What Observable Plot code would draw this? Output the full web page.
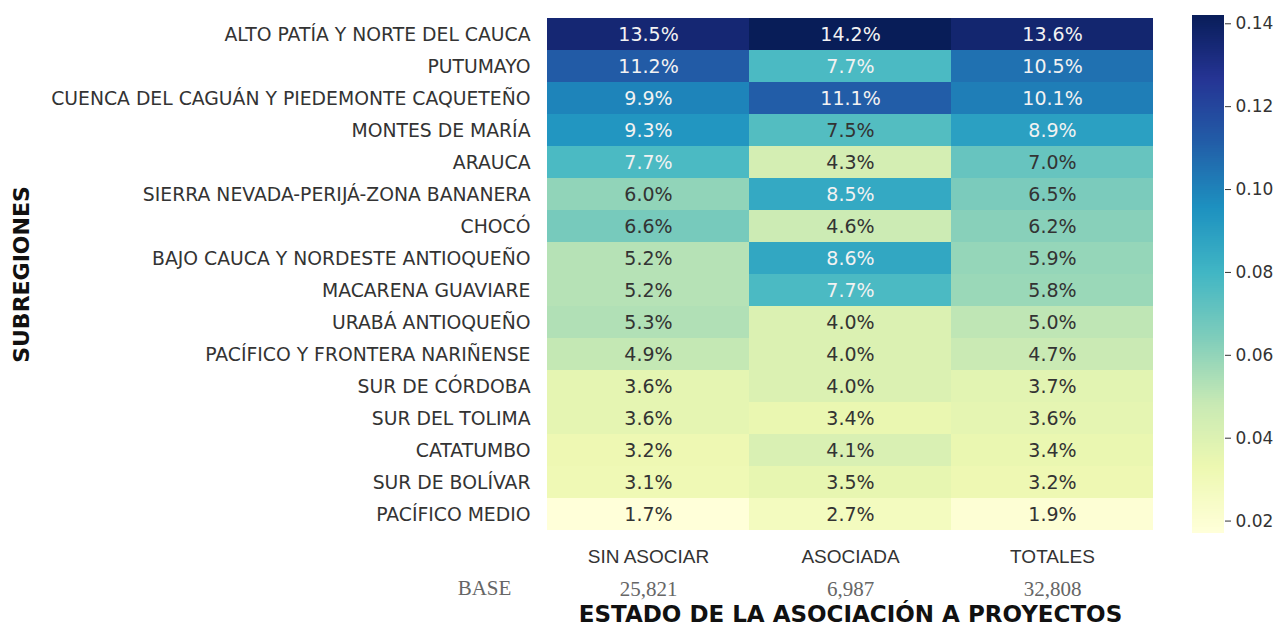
<!DOCTYPE html>
<html>
<head>
<meta charset="utf-8">
<script src="https://cdn.jsdelivr.net/npm/d3@7"></script>
<script src="https://cdn.jsdelivr.net/npm/@observablehq/plot@0.6"></script>
<style>
  html, body { margin: 0; padding: 0; background: #fff; }
  #wrap { position: relative; width: 1279px; height: 632px; }
  #wrap > div, #wrap > svg { position: absolute; top: 0; }
</style>
</head>
<body>
<div id="wrap"></div>
<script>
const regions = [
  "ALTO PATÍA Y NORTE DEL CAUCA",
  "PUTUMAYO",
  "CUENCA DEL CAGUÁN Y PIEDEMONTE CAQUETEÑO",
  "MONTES DE MARÍA",
  "ARAUCA",
  "SIERRA NEVADA-PERIJÁ-ZONA BANANERA",
  "CHOCÓ",
  "BAJO CAUCA Y NORDESTE ANTIOQUEÑO",
  "MACARENA GUAVIARE",
  "URABÁ ANTIOQUEÑO",
  "PACÍFICO Y FRONTERA NARIÑENSE",
  "SUR DE CÓRDOBA",
  "SUR DEL TOLIMA",
  "CATATUMBO",
  "SUR DE BOLÍVAR",
  "PACÍFICO MEDIO"
];
const columns = ["SIN ASOCIAR", "ASOCIADA", "TOTALES"];
const sinAsociar = [13.5, 11.2, 9.9, 9.3, 7.7, 6.0, 6.6, 5.2, 5.2, 5.3, 4.9, 3.6, 3.6, 3.2, 3.1, 1.7];
const asociada   = [14.2, 7.7, 11.1, 7.5, 4.3, 8.5, 4.6, 8.6, 7.7, 4.0, 4.0, 4.0, 3.4, 4.1, 3.5, 2.7];
const totales    = [13.6, 10.5, 10.1, 8.9, 7.0, 6.5, 6.2, 5.9, 5.8, 5.0, 4.7, 3.7, 3.6, 3.4, 3.2, 1.9];
const baseValues = ["25,821", "6,987", "32,808"];
const colorTicks = [0.02, 0.04, 0.06, 0.08, 0.10, 0.12, 0.14];
const ylgnbu = ["#ffffd9","#edf8b1","#c7e9b4","#7fcdbb","#41b6c4","#1d91c0","#225ea8","#253494","#081d58"];

const series = [sinAsociar, asociada, totales];
const cells = regions.flatMap((r, i) => columns.map((c, j) => ({region: r, col: c, value: series[j][i] / 100})));

const vmin = d3.min(cells, d => d.value);
const vmax = d3.max(cells, d => d.value);
const stops = ylgnbu.map((_, i) => vmin + (vmax - vmin) * i / (ylgnbu.length - 1));
const colorOpts = {type: "linear", domain: stops, range: ylgnbu, interpolate: "rgb"};

// seaborn-style text colour choice via relative luminance
const cfun = d3.scaleLinear().domain(stops).range(ylgnbu).interpolate(d3.interpolateRgb);
function lum(v) {
  const c = d3.rgb(cfun(v));
  const f = x => { x /= 255; return x <= 0.03928 ? x / 12.92 : Math.pow((x + 0.055) / 1.055, 2.4); };
  return 0.2126 * f(c.r) + 0.7152 * f(c.g) + 0.0722 * f(c.b);
}
const isDark = d => lum(d.value) <= 0.408;
const fmt = d => (d.value * 100).toFixed(1) + "%";

const FONT = "DejaVu Sans";
const SERIF = "Liberation Serif, serif";

const main = Plot.plot({
  width: 1279,
  height: 632,
  marginLeft: 546,
  marginRight: 125,
  marginTop: 15,
  marginBottom: 99,
  style: {fontFamily: FONT, background: "#fff"},
  x: {domain: columns, padding: 0, axis: null},
  y: {domain: regions, padding: 0, axis: null},
  color: colorOpts,
  marks: [
    Plot.cell(cells, {x: "col", y: "region", fill: "value"}),
    Plot.text(cells, {filter: isDark, x: "col", y: "region", text: fmt, fill: "#f2f2f2", fontSize: 19}),
    Plot.text(cells, {filter: d => !isDark(d), x: "col", y: "region", text: fmt, fill: "#333", fontSize: 19}),
    Plot.axisY({tickSize: 0, tickPadding: 16, fontSize: 18.8, label: null, color: "#333"}),
    Plot.axisX({tickSize: 0, tickPadding: 16, fontSize: 19, label: null, color: "#333",
      fontFamily: "Liberation Sans Narrow, Arial Narrow, Liberation Sans, sans-serif"}),
    Plot.axisX({tickSize: 0, tickPadding: 48, fontSize: 21, label: null, color: "#666",
      fontFamily: SERIF, tickFormat: d => baseValues[columns.indexOf(d)]}),
    Plot.text(["BASE"], {frameAnchor: "bottom-left", dx: -62, dy: 61, fontSize: 21, fill: "#666",
      fontFamily: SERIF, textAnchor: "middle"}),
    Plot.text(["ESTADO DE LA ASOCIACIÓN A PROYECTOS"], {frameAnchor: "bottom", dy: 88, fontSize: 23,
      fontWeight: "bold", fill: "#111"}),
    Plot.text(["SUBREGIONES"], {frameAnchor: "left", dx: -525, rotate: -90, fontSize: 22,
      fontWeight: "bold", fill: "#111", textAnchor: "middle"})
  ]
});
main.style.left = "0px";
document.getElementById("wrap").appendChild(main);

// vertical colour bar
const nBands = 260;
const bands = d3.range(nBands).map(i => vmin + (vmax - vmin) * i / nBands);
const step = (vmax - vmin) / nBands;
const bar = Plot.plot({
  width: 109,
  height: 632,
  marginLeft: 22,
  marginRight: 55,
  marginTop: 15,
  marginBottom: 99,
  style: {fontFamily: FONT, background: "transparent"},
  x: {domain: [0, 1], axis: null},
  y: {domain: [vmin, vmax], axis: null},
  color: colorOpts,
  marks: [
    Plot.rect(bands, {x1: 0, x2: 1, y1: d => d, y2: d => Math.min(d + step * 3, vmax), fill: d => d, shapeRendering: "crispEdges"}),
    Plot.axisY({anchor: "right", ticks: colorTicks, tickFormat: d3.format(".2f"), tickSize: 6,
      tickPadding: 5, fontSize: 17, color: "#333", label: null})
  ]
});
bar.style.left = "1170px";
document.getElementById("wrap").appendChild(bar);
</script>
</body>
</html>
